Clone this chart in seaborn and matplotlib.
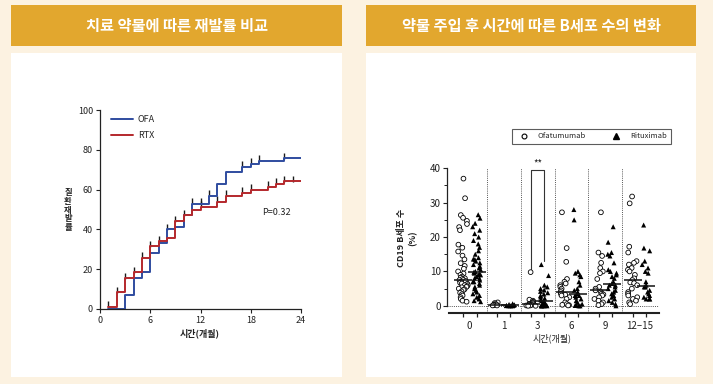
import numpy as np
import pandas as pd
import seaborn as sns
import matplotlib.pyplot as plt
from matplotlib.patches import Rectangle
from matplotlib.lines import Line2D
from matplotlib.ticker import MultipleLocator, FixedLocator

# ----------------------------
# data: left panel (cumulative relapse, %)
# ----------------------------
ofa_months = [1, 3, 4, 5, 6, 7, 8, 9, 10, 11, 13, 14, 15, 17, 18, 19, 22, 24]
ofa_pct = [0, 7, 15.4, 18.4, 28.3, 33, 40, 41, 47, 53, 57, 63, 69, 71.5, 73, 74.5, 75.8, 75.8]
rtx_months = [1, 2, 3, 4, 5, 6, 7, 8, 9, 10, 11, 12, 14, 15, 17, 18, 20, 21, 22, 24]
rtx_pct = [1.2, 8.4, 15.5, 18.4, 25.8, 31.5, 34, 35.5, 44, 47, 50, 51.4, 54, 57, 58.5, 60, 61.5, 63, 64.3, 64.3]
ofa_censor = [8, 11, 12, 13, 17, 18, 19, 22]
rtx_censor = [1, 2, 3, 4, 5, 6, 7, 9, 10, 12, 14, 15, 17, 18, 20, 21, 22, 23]
p_text = "P=0.32"

# ----------------------------
# data: right panel (CD19 B cells, %)
# ----------------------------
times = ["0", "1", "3", "6", "9", "12\u201315"]
drugs = ["Ofatumumab", "Rituximab"]

ofa_vals = {
    "0": [37, 31.3, 26.4, 25.6, 24.7, 23.8, 22.9, 22, 17.8, 16.9, 15.8, 14.6, 13.5, 12.4,
          11.6, 10.8, 10, 9.4, 9, 8.5, 8.2, 8, 7.8, 7.5, 7.5, 7.2, 7, 6.7, 6.5, 6.4, 6, 6,
          5.7, 5.5, 5.4, 5, 4.8, 4.6, 4.2, 3.8, 3.4, 3, 2.5, 2, 1.5, 1.2],
    "1": [1.0, 0.8, 0.5, 0.4, 0.3, 0.2, 0.1, 0.1],
    "3": [9.8, 1.8, 1.5, 1.2, 1.0, 0.8, 0.6, 0.5, 0.4, 0.3, 0.2, 0.1, 0.1, 0, 0],
    "6": [27.2, 16.8, 12.8, 7.8, 7, 6.5, 6, 5.5, 5, 4.5, 4, 3.5, 3.2, 3, 2.5, 2, 1, 0.5,
          0.3, 0.2, 0.1],
    "9": [27.2, 15.5, 14.5, 12.5, 11, 10, 9.5, 7.8, 5.5, 5, 4.5, 4, 3.5, 3.3, 3, 2.5, 2,
          1.5, 1, 0.5, 0.2],
    "12\u201315": [31.8, 29.8, 17.2, 15.5, 13, 12.5, 12, 11, 10.5, 10, 9, 8, 7.5, 6.8, 6.6,
                   6, 5, 4, 3.5, 3, 2.5, 2, 1.5, 1, 0.5],
}
rtx_vals = {
    "0": [26.5, 25.5, 24, 23, 22, 21, 20, 19, 18, 17, 16, 15, 14, 13.6, 13.5, 13, 12.5,
          12, 11.5, 11, 10.5, 10, 9.8, 9.5, 9.2, 9, 9, 8.5, 8, 8, 7.5, 7, 7, 6.5, 6, 5.5,
          5, 4.5, 4, 3.5, 3, 2.5, 2, 1.5, 1.2],
    "1": [0.6, 0.4, 0.3, 0.2, 0.1, 0.1, 0.05, 0, 0, 0],
    "3": [12, 8.8, 6, 5.5, 5, 4.6, 4.2, 3.8, 3.4, 3, 2.6, 2.2, 1.8, 1.5, 1.2, 1, 0.8,
          0.6, 0.4, 0.3, 0.2, 0.1, 0, 0, 0, 0, 0],
    "6": [28, 25, 10, 9.5, 9, 8.5, 7, 6, 5, 4.5, 4, 3.5, 3, 3, 2.5, 2, 1.5, 1, 0.5, 0.3,
          0.1, 0, 0],
    "9": [23, 18.5, 15.5, 15, 14.5, 12.5, 10.5, 10, 9.5, 9, 8.5, 8, 7, 6.5, 6, 6, 5.5, 5,
          4.5, 4, 3.5, 3, 2.5, 2, 1.5, 1, 0.5, 0],
    "12\u201315": [23.5, 16.8, 16, 13, 12, 11, 10, 9.5, 7, 6, 5.5, 5.5, 4.5, 4, 3.5, 3, 2.5,
                   2, 2, 2],
}

rows = []
for t in times:
    rows += [(t, "Ofatumumab", v) for v in ofa_vals[t]]
    rows += [(t, "Rituximab", v) for v in rtx_vals[t]]
df = pd.DataFrame(rows, columns=["time", "drug", "cd19"])

# ----------------------------
# style
# ----------------------------
sns.set_theme(style="white")
plt.rcParams["font.family"] = ["Noto Sans CJK KR", "DejaVu Sans"]
plt.rcParams["axes.unicode_minus"] = False
np.random.seed(3)  # fixed horizontal jitter of the dots

W, H = 713, 384
cream = "#FCF2E1"
gold = "#E2A72E"
blue = "#2F4C9F"
red = "#B4282C"
ink = "#222222"

fig = plt.figure(figsize=(W / 100, H / 100), dpi=100, facecolor=cream)


def px_rect(x0, y0, x1, y1, color):
    fig.add_artist(Rectangle((x0 / W, 1 - y1 / H), (x1 - x0) / W, (y1 - y0) / H,
                             transform=fig.transFigure, facecolor=color,
                             edgecolor="none", zorder=0))


def px_axes(x0, y0, x1, y1):
    return fig.add_axes([x0 / W, 1 - y1 / H, (x1 - x0) / W, (y1 - y0) / H])


# header bars and white panels
px_rect(11, 5, 342, 46, gold)
px_rect(366, 5, 696, 46, gold)
px_rect(11, 53, 342, 377, "white")
px_rect(366, 53, 696, 377, "white")
fig.text(176.5 / W, 1 - 25.5 / H, "치료 약물에 따른 재발률 비교", ha="center", va="center",
         color="white", fontsize=11, fontweight="bold")
fig.text(531 / W, 1 - 25.5 / H, "약물 주입 후 시간에 따른 B세포 수의 변화", ha="center",
         va="center", color="white", fontsize=11, fontweight="bold")

# ----------------------------
# left panel: step curves
# ----------------------------
ax1 = px_axes(100, 110, 301, 309)
ax1.patch.set_alpha(0)
sns.lineplot(x=ofa_months, y=ofa_pct, drawstyle="steps-post", color=blue, lw=1.4,
             label="OFA", ax=ax1)
sns.lineplot(x=rtx_months, y=rtx_pct, drawstyle="steps-post", color=red, lw=1.4,
             label="RTX", ax=ax1)


def step_at(months, vals, ts):
    idx = np.searchsorted(months, ts, side="right") - 1
    return np.array(vals)[idx]


sns.scatterplot(x=ofa_censor, y=step_at(ofa_months, ofa_pct, ofa_censor) + 1.2,
                marker="|", s=18, color="#1a1a1a", linewidth=1.0, ax=ax1, legend=False)
sns.scatterplot(x=rtx_censor, y=step_at(rtx_months, rtx_pct, rtx_censor) + 1.2,
                marker="|", s=18, color="#1a1a1a", linewidth=1.0, ax=ax1, legend=False)

ax1.set_xlim(0, 24)
ax1.set_ylim(0, 100)
ax1.set_xticks([0, 6, 12, 18, 24])
ax1.set_yticks([0, 20, 40, 60, 80, 100])
ax1.tick_params(direction="out", length=3, width=0.8, labelsize=6.5, pad=2,
                colors=ink, left=True, bottom=True)
sns.despine(ax=ax1)
for s in ["left", "bottom"]:
    ax1.spines[s].set_linewidth(0.9)
    ax1.spines[s].set_color(ink)
ax1.set_xlabel("")
ax1.set_ylabel("")
ax1.text(19.4, 48.5, p_text, fontsize=6.5, ha="left", va="center", color=ink)
ax1.legend(loc="upper left", bbox_to_anchor=(0.03, 1.0), frameon=False, fontsize=6.5,
           handlelength=2.4, handletextpad=0.5, labelspacing=0.7, borderaxespad=0.2)
fig.text(200 / W, 1 - 333 / H, "시간(개월)", ha="center", va="center", fontsize=6.5,
         fontweight="bold", color=ink)
fig.text(68 / W, 1 - 210 / H, "질\n환\n재\n발\n률", ha="center", va="center",
         fontsize=6, fontweight="bold", color=ink, linespacing=0.95)

# ----------------------------
# right panel: B-cell scatter by time
# ----------------------------
ax2 = px_axes(447, 168.3, 659, 312.7)
ax2.patch.set_alpha(0)
pal = {"Ofatumumab": "white", "Rituximab": "black"}
sns.stripplot(data=df[df.drug == "Ofatumumab"], x="time", y="cd19", hue="drug",
              hue_order=drugs, order=times, dodge=True, jitter=0.3, palette=pal,
              marker="o", size=3.4, edgecolor="black", linewidth=0.6, legend=False,
              ax=ax2, zorder=3)
sns.stripplot(data=df[df.drug == "Rituximab"], x="time", y="cd19", hue="drug",
              hue_order=drugs, order=times, dodge=True, jitter=0.26, palette=pal,
              marker="^", size=3.6, linewidth=0, legend=False, ax=ax2, zorder=3)
sns.pointplot(data=df, x="time", y="cd19", hue="drug", hue_order=drugs, order=times,
              estimator="median", errorbar=None, dodge=0.4, marker="_", markersize=13,
              markeredgewidth=1.1, linestyle="none", palette=["#111111", "#111111"],
              legend=False, ax=ax2)
for ln in ax2.lines:
    ln.set_zorder(5)

for i in range(len(times) - 1):
    ax2.axvline(i + 0.5, color="#555555", ls=(0, (1, 1.2)), lw=0.7, zorder=0)
ax2.axhline(0, color="#555555", ls=(0, (1, 1.2)), lw=0.7, zorder=0)

# significance bracket at month 3
i3 = times.index("3")
top = 39.6
ax2.plot([i3 - 0.2, i3 - 0.2, i3 + 0.2, i3 + 0.2],
         [max(ofa_vals["3"]) + 1.0, top, top, max(rtx_vals["3"]) + 1.0],
         color="#333333", lw=0.8, clip_on=False)
ax2.text(i3, top + 0.3, "**", ha="center", va="bottom", fontsize=7, color=ink)

ax2.set_xlim(-0.67, 5.58)
ax2.set_ylim(-2, 40)
ax2.set_yticks([0, 10, 20, 30, 40])
ax2.yaxis.set_minor_locator(MultipleLocator(5))
ax2.xaxis.set_minor_locator(FixedLocator([i + d for i in range(len(times)) for d in (-0.2, 0.2)]))
ax2.tick_params(axis="x", which="major", length=0, labelsize=7, pad=6, colors=ink)
ax2.tick_params(axis="x", which="minor", length=3, width=0.9, direction="out",
                bottom=True, colors=ink)
ax2.tick_params(axis="y", which="major", length=3, width=0.8, direction="out",
                labelsize=7, pad=1.5, left=True, colors=ink)
ax2.tick_params(axis="y", which="minor", length=2, width=0.7, direction="out",
                left=True, colors=ink)
sns.despine(ax=ax2)
ax2.spines["left"].set_bounds(0, 40)
ax2.spines["left"].set_linewidth(0.9)
ax2.spines["bottom"].set_bounds(-0.6, 5.58)
ax2.spines["bottom"].set_linewidth(1.5)
for s in ["left", "bottom"]:
    ax2.spines[s].set_color(ink)
ax2.set_xlabel("")
ax2.set_ylabel("")
fig.text(552 / W, 1 - 338 / H, "시간(개월)", ha="center", va="center", fontsize=6.5,
         color=ink)
fig.text(407 / W, 1 - 238 / H, "CD19 B세포 수\n(%)", ha="center", va="center",
         rotation=90, fontsize=6.5, fontweight="bold", color=ink, linespacing=1.3)

handles = [
    Line2D([], [], marker="o", ls="none", markerfacecolor="white", markeredgecolor="black",
           markersize=3.5, markeredgewidth=0.8, label="Ofatumumab"),
    Line2D([], [], marker="^", ls="none", color="black", markersize=4, label="Rituximab"),
]
leg = ax2.legend(handles=handles, loc="center", ncol=2, fontsize=5.5, frameon=True,
                 fancybox=False, edgecolor="#333333", bbox_to_anchor=(591.5 / W, 1 - 136.5 / H),
                 bbox_transform=fig.transFigure, columnspacing=3.0, handletextpad=0.8,
                 borderpad=0.5)
leg.get_frame().set_linewidth(0.8)

fig.savefig("out.png", dpi=100, facecolor=cream)
